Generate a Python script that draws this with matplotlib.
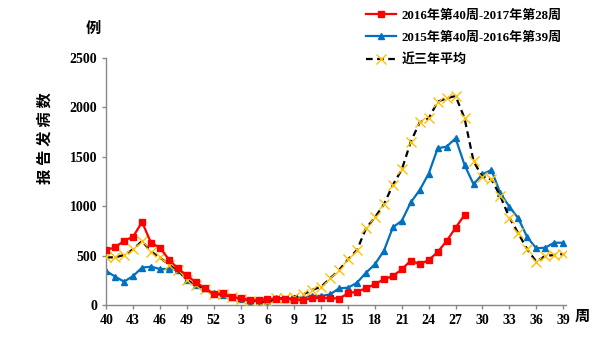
import matplotlib
matplotlib.use('Agg')
import matplotlib.pyplot as plt

plt.rcParams['font.family'] = ['Liberation Serif', 'Noto Sans CJK SC']
plt.rcParams['font.weight'] = 'bold'

weeks = [str(w) for w in list(range(40, 53)) + list(range(1, 40))]

# 2016年第40周-2017年第28周 (41 weeks)
cases_1617 = [555, 585, 650, 690, 840, 630, 580, 460, 370, 300, 230, 170, 110,
              120, 80, 70, 50, 50, 60, 60, 60, 55, 50, 70, 70, 70, 65,
              118, 135, 169, 212, 260, 293, 361, 449, 412, 455, 536, 648, 782, 911]

# 2015年第40周-2016年第39周
cases_1516 = [344, 287, 236, 293, 378, 388, 364, 364, 354, 253, 202, 169, 118,
              101, 84, 61, 40, 40, 27, 68, 61, 74, 74, 91, 91, 108, 169,
              175, 226, 327, 412, 550, 786, 853, 1039, 1164, 1330, 1586, 1603, 1687,
              1417, 1222, 1323, 1366, 1130, 995, 877, 685, 574, 580, 630, 630]

# 近三年平均
cases_avg = [482, 482, 506, 563, 648, 540, 482, 405, 354, 253, 202, 162, 111,
             108, 84, 61, 40, 34, 27, 68, 68, 84, 108, 152, 185, 270, 354,
             462, 557, 776, 887, 1019, 1215, 1372, 1653, 1849, 1889, 2058, 2092, 2115,
             1889, 1457, 1292, 1272, 1100, 885, 725, 563, 439, 496, 506, 516]

labels = ['2016年第40周-2017年第28周', '2015年第40周-2016年第39周', '近三年平均']

fig = plt.figure(figsize=(6, 3.37), dpi=100)
ax = fig.add_axes([0.177, 0.095, 0.766, 0.733])

x_all = list(range(len(weeks)))
l2, = ax.plot(x_all, cases_1516, color='#0070C0', lw=1.6, marker='^', ms=5,
              label=labels[1], zorder=2)
l3, = ax.plot(x_all, cases_avg, color='black', lw=1.6, ls=(0, (3, 2)), marker='x',
              ms=6.5, mec='#FFC000', mew=1.0, label=labels[2], zorder=3)
l1, = ax.plot(x_all[:len(cases_1617)], cases_1617, color='#FF0000', lw=1.6, marker='s',
              ms=5, label=labels[0], zorder=4)

ax.set_xlim(0, len(weeks) - 1 + 0.3)
ax.set_ylim(0, 2500)
ax.set_yticks(range(0, 2501, 500))
ax.set_xticks(x_all[::3])
ax.set_xticklabels(weeks[::3])

for s in ['top', 'right']:
    ax.spines[s].set_visible(False)
for s in ['left', 'bottom']:
    ax.spines[s].set_color('#888888')
    ax.spines[s].set_linewidth(1.0)
ax.tick_params(colors='#888888', length=3, width=1.0, labelcolor='black', labelsize=10)
for t in ax.get_xticklabels() + ax.get_yticklabels():
    t.set_fontweight('bold')

fig.text(0.155, 0.915, '例', fontsize=11, fontweight='bold', ha='center', va='center')
fig.text(0.075, 0.59, '报 告 发 病 数', fontsize=11, fontweight='bold', rotation=90,
         ha='center', va='center')
fig.text(0.97, 0.058, '周', fontsize=11, fontweight='bold', ha='center', va='center')

ax.legend(handles=[l1, l2, l3], loc='upper left', bbox_to_anchor=(0.54, 1.245),
          frameon=False, handlelength=2.3, handletextpad=0.4,
          labelspacing=0.75, prop={'weight': 'bold', 'size': 9.4})

fig.savefig('out.png', dpi=100)
